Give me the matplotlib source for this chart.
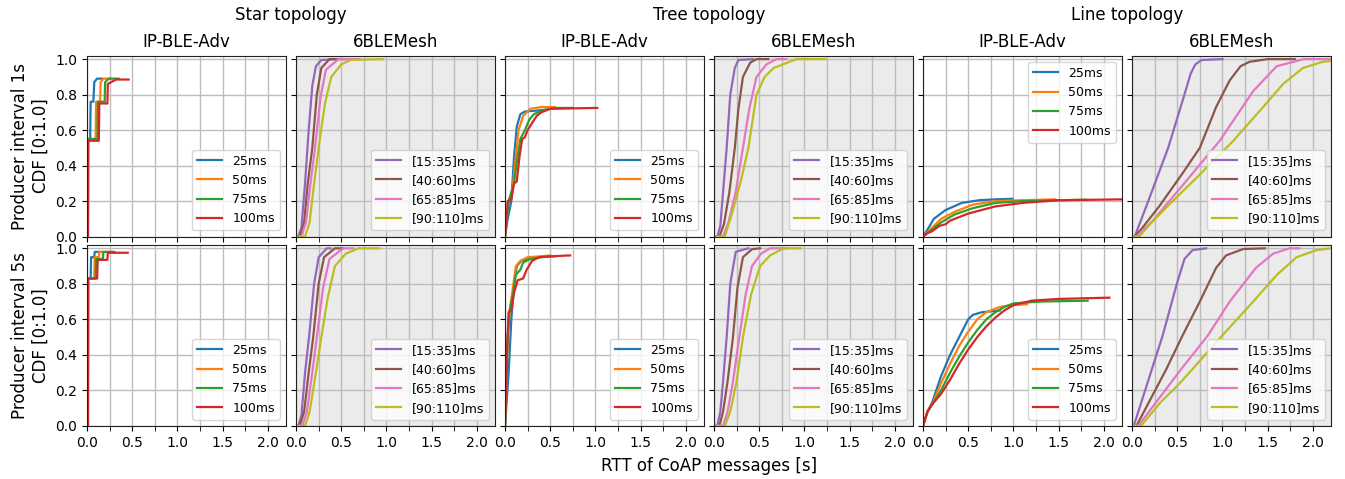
import numpy as np
import matplotlib
matplotlib.use("Agg")
import matplotlib.pyplot as plt
from matplotlib.ticker import MultipleLocator, FuncFormatter

# legend labels and colours
adv_labels = ["25ms", "50ms", "75ms", "100ms"]
mesh_labels = ["[15:35]ms", "[40:60]ms", "[65:85]ms", "[90:110]ms"]
adv_colors = ["C0", "C1", "C2", "C3"]
mesh_colors = ["C4", "C5", "C6", "C8"]

topologies = ["Star topology", "Tree topology", "Line topology"]
col_titles = ["IP-BLE-Adv", "6BLEMesh"]
row_labels = ["Producer interval 1s\nCDF [0:1.0]", "Producer interval 5s\nCDF [0:1.0]"]

# ---- Star, IP-BLE-Adv ----
star_adv_1s_x = [
    [0, 0.01, 0.012, 0.035, 0.04, 0.07, 0.08, 0.11, 0.165],
    [0, 0.01, 0.012, 0.095, 0.1, 0.145, 0.15, 0.18, 0.26],
    [0, 0.01, 0.012, 0.115, 0.12, 0.195, 0.2, 0.24, 0.35],
    [0, 0.01, 0.012, 0.13, 0.136, 0.225, 0.23, 0.32, 0.46],
]
star_adv_1s_y = [
    [0, 0, 0.55, 0.55, 0.76, 0.76, 0.87, 0.89, 0.89],
    [0, 0, 0.55, 0.55, 0.76, 0.76, 0.87, 0.89, 0.89],
    [0, 0, 0.55, 0.55, 0.76, 0.76, 0.87, 0.89, 0.89],
    [0, 0, 0.54, 0.54, 0.75, 0.75, 0.86, 0.885, 0.885],
]
star_adv_5s_x = [
    [0, 0.01, 0.012, 0.04, 0.045, 0.08, 0.085, 0.15],
    [0, 0.01, 0.012, 0.08, 0.085, 0.13, 0.136, 0.26],
    [0, 0.01, 0.012, 0.095, 0.1, 0.175, 0.18, 0.3],
    [0, 0.01, 0.012, 0.112, 0.118, 0.225, 0.23, 0.45],
]
star_adv_5s_y = [
    [0, 0, 0.83, 0.83, 0.95, 0.95, 0.98, 0.98],
    [0, 0, 0.83, 0.83, 0.95, 0.95, 0.98, 0.98],
    [0, 0, 0.83, 0.83, 0.94, 0.94, 0.98, 0.98],
    [0, 0, 0.83, 0.83, 0.935, 0.935, 0.975, 0.975],
]

# ---- Star, 6BLEMesh ----
star_mesh_1s_x = [
    [0.0, 0.025, 0.06, 0.1, 0.14, 0.18, 0.22, 0.28, 0.45],
    [0.0, 0.045, 0.09, 0.13, 0.18, 0.23, 0.28, 0.37, 0.55],
    [0.0, 0.06, 0.11, 0.16, 0.21, 0.27, 0.33, 0.47, 0.7],
    [0.0, 0.1, 0.15, 0.2, 0.25, 0.32, 0.39, 0.5, 0.6, 0.96],
]
star_mesh_1s_y = [
    [0, 0, 0.05, 0.3, 0.6, 0.85, 0.96, 0.995, 1.0],
    [0, 0, 0.08, 0.3, 0.5, 0.8, 0.95, 1.0, 1.0],
    [0, 0, 0.08, 0.3, 0.5, 0.78, 0.94, 1.0, 1.0],
    [0, 0, 0.08, 0.3, 0.5, 0.75, 0.9, 0.97, 0.995, 1.0],
]
star_mesh_5s_x = [
    [0.0, 0.026, 0.06, 0.1, 0.144, 0.2, 0.25, 0.34, 0.38],
    [0.0, 0.04, 0.09, 0.14, 0.19, 0.25, 0.31, 0.43, 0.52],
    [0.0, 0.07, 0.12, 0.18, 0.23, 0.3, 0.37, 0.52, 0.63],
    [0.0, 0.1, 0.15, 0.22, 0.28, 0.35, 0.43, 0.55, 0.69, 0.92],
]
star_mesh_5s_y = [
    [0, 0, 0.06, 0.3, 0.5, 0.8, 0.95, 1.0, 1.0],
    [0, 0, 0.08, 0.3, 0.5, 0.8, 0.95, 1.0, 1.0],
    [0, 0, 0.08, 0.3, 0.5, 0.78, 0.94, 1.0, 1.0],
    [0, 0, 0.08, 0.3, 0.5, 0.72, 0.9, 0.97, 1.0, 1.0],
]

# ---- Tree, IP-BLE-Adv ----
tree_adv_1s_x = [
    [0, 0.03, 0.07, 0.1, 0.13, 0.17, 0.22, 0.35, 0.45],
    [0, 0.04, 0.08, 0.12, 0.15, 0.2, 0.28, 0.4, 0.55],
    [0, 0.04, 0.1, 0.13, 0.17, 0.22, 0.27, 0.32, 0.4, 0.55, 0.75],
    [0, 0.03, 0.07, 0.1, 0.13, 0.16, 0.19, 0.22, 0.25, 0.3, 0.35, 0.4, 0.5, 1.02],
]
tree_adv_1s_y = [
    [0, 0.1, 0.2, 0.45, 0.62, 0.69, 0.705, 0.71, 0.715],
    [0, 0.2, 0.25, 0.45, 0.6, 0.68, 0.72, 0.73, 0.73],
    [0, 0.2, 0.3, 0.42, 0.55, 0.6, 0.66, 0.69, 0.71, 0.725, 0.725],
    [0, 0.2, 0.21, 0.3, 0.31, 0.45, 0.55, 0.56, 0.6, 0.64, 0.68, 0.7, 0.72, 0.725],
]
tree_adv_5s_x = [
    [0, 0.04, 0.07, 0.1, 0.13, 0.18, 0.27, 0.35, 0.45],
    [0, 0.03, 0.05, 0.08, 0.12, 0.17, 0.25, 0.4, 0.5],
    [0, 0.03, 0.05, 0.09, 0.12, 0.17, 0.2, 0.28, 0.4, 0.55],
    [0, 0.02, 0.04, 0.07, 0.1, 0.14, 0.2, 0.24, 0.3, 0.38, 0.5, 0.72],
]
tree_adv_5s_y = [
    [0, 0.3, 0.6, 0.8, 0.9, 0.93, 0.94, 0.95, 0.955],
    [0, 0.5, 0.65, 0.75, 0.9, 0.93, 0.95, 0.955, 0.96],
    [0, 0.5, 0.64, 0.75, 0.85, 0.88, 0.92, 0.94, 0.95, 0.955],
    [0, 0.4, 0.64, 0.65, 0.75, 0.82, 0.83, 0.88, 0.93, 0.95, 0.955, 0.96],
]

# ---- Tree, 6BLEMesh ----
tree_mesh_1s_x = [
    [0.0, 0.037, 0.07, 0.1, 0.14, 0.18, 0.23, 0.27, 0.43],
    [0.0, 0.06, 0.11, 0.17, 0.23, 0.27, 0.32, 0.4, 0.47, 0.6],
    [0.0, 0.1, 0.16, 0.24, 0.32, 0.39, 0.47, 0.58, 0.69, 0.8],
    [0.0, 0.12, 0.21, 0.3, 0.38, 0.47, 0.56, 0.66, 0.91, 1.23],
]
tree_mesh_1s_y = [
    [0, 0, 0.06, 0.25, 0.5, 0.8, 0.95, 0.995, 1.0],
    [0, 0, 0.07, 0.25, 0.5, 0.72, 0.9, 0.98, 1.0, 1.0],
    [0, 0, 0.08, 0.25, 0.5, 0.72, 0.9, 0.97, 1.0, 1.0],
    [0, 0, 0.15, 0.32, 0.5, 0.8, 0.9, 0.95, 1.0, 1.0],
]
tree_mesh_5s_x = [
    [0.0, 0.037, 0.07, 0.1, 0.14, 0.18, 0.24, 0.38],
    [0.0, 0.06, 0.1, 0.15, 0.21, 0.26, 0.32, 0.42, 0.51],
    [0.0, 0.1, 0.15, 0.21, 0.28, 0.35, 0.42, 0.52, 0.62, 0.8],
    [0.0, 0.12, 0.18, 0.25, 0.32, 0.41, 0.51, 0.62, 0.77, 0.96],
]
tree_mesh_5s_y = [
    [0, 0, 0.08, 0.25, 0.5, 0.8, 0.98, 1.0],
    [0, 0, 0.08, 0.25, 0.5, 0.78, 0.95, 0.995, 1.0],
    [0, 0, 0.08, 0.25, 0.5, 0.74, 0.9, 0.97, 1.0, 1.0],
    [0, 0, 0.08, 0.25, 0.5, 0.74, 0.9, 0.96, 1.0, 1.0],
]

# ---- Line, IP-BLE-Adv ----
line_adv_1s_x = [
    [0, 0.05, 0.12, 0.25, 0.43, 0.62, 0.8, 0.99],
    [0, 0.1, 0.2, 0.35, 0.55, 0.8, 1.1, 1.46],
    [0, 0.05, 0.1, 0.2, 0.35, 0.55, 0.8, 1.1, 1.5, 1.8],
    [0, 0.05, 0.1, 0.18, 0.25, 0.3, 0.5, 0.8, 1.1, 1.5, 2.2],
]
line_adv_1s_y = [
    [0, 0.04, 0.1, 0.15, 0.19, 0.205, 0.21, 0.213],
    [0, 0.05, 0.1, 0.14, 0.18, 0.2, 0.205, 0.21],
    [0, 0.02, 0.04, 0.08, 0.125, 0.16, 0.19, 0.2, 0.205, 0.208],
    [0, 0.02, 0.03, 0.06, 0.07, 0.09, 0.13, 0.17, 0.19, 0.205, 0.21],
]
line_adv_5s_x = [
    [0, 0.05, 0.1, 0.2, 0.3, 0.4, 0.5, 0.55, 0.65, 0.85],
    [0, 0.05, 0.1, 0.2, 0.3, 0.4, 0.5, 0.6, 0.7, 0.85, 1.0, 1.15],
    [0, 0.05, 0.1, 0.2, 0.3, 0.4, 0.5, 0.6, 0.7, 0.8, 0.9, 1.0, 1.3, 1.82],
    [0, 0.05, 0.1, 0.2, 0.3, 0.4, 0.5, 0.6, 0.7, 0.8, 0.9, 1.0, 1.2, 1.5, 2.06],
]
line_adv_5s_y = [
    [0, 0.08, 0.13, 0.28, 0.4, 0.5, 0.6, 0.625, 0.64, 0.65],
    [0, 0.08, 0.12, 0.24, 0.35, 0.45, 0.53, 0.6, 0.64, 0.67, 0.68, 0.685],
    [0, 0.08, 0.12, 0.2, 0.3, 0.39, 0.47, 0.54, 0.6, 0.64, 0.67, 0.69, 0.70, 0.705],
    [0, 0.08, 0.12, 0.18, 0.26, 0.35, 0.43, 0.5, 0.56, 0.61, 0.65, 0.68, 0.705, 0.715, 0.722],
]

# ---- Line, 6BLEMesh ----
line_mesh_1s_x = [
    [0.0, 0.03, 0.18, 0.4, 0.55, 0.65, 0.7, 0.77, 1.0],
    [0.0, 0.03, 0.1, 0.3, 0.55, 0.75, 0.93, 1.08, 1.2, 1.3, 1.5, 1.8],
    [0.0, 0.05, 0.23, 0.545, 0.97, 1.34, 1.6, 1.9, 2.2],
    [0.0, 0.08, 0.2, 0.38, 0.75, 1.12, 1.45, 1.67, 1.89, 2.11, 2.2],
]
line_mesh_1s_y = [
    [0, 0, 0.2, 0.5, 0.75, 0.92, 0.97, 0.995, 1.0],
    [0, 0, 0.04, 0.17, 0.35, 0.5, 0.73, 0.88, 0.96, 0.985, 1.0, 1.0],
    [0, 0, 0.09, 0.28, 0.54, 0.82, 0.96, 1.0, 1.0],
    [0, 0, 0.07, 0.165, 0.35, 0.54, 0.73, 0.86, 0.95, 0.985, 0.99],
]
line_mesh_5s_x = [
    [0.0, 0.02, 0.34, 0.49, 0.58, 0.67, 0.82],
    [0.0, 0.05, 0.38, 0.56, 0.75, 0.93, 1.04, 1.23, 1.47],
    [0.0, 0.07, 0.27, 0.545, 0.84, 1.08, 1.37, 1.56, 1.74, 1.85],
    [0.0, 0.1, 0.32, 0.51, 0.67, 1.0, 1.34, 1.6, 1.82, 2.04, 2.2],
]
line_mesh_5s_y = [
    [0, 0, 0.51, 0.79, 0.94, 0.99, 1.0],
    [0, 0, 0.32, 0.51, 0.7, 0.89, 0.96, 0.996, 1.0],
    [0, 0, 0.135, 0.32, 0.51, 0.7, 0.89, 0.97, 1.0, 1.0],
    [0, 0, 0.135, 0.23, 0.32, 0.51, 0.7, 0.85, 0.95, 0.99, 1.0],
]

panels = [
    [(star_adv_1s_x, star_adv_1s_y), (star_mesh_1s_x, star_mesh_1s_y),
     (tree_adv_1s_x, tree_adv_1s_y), (tree_mesh_1s_x, tree_mesh_1s_y),
     (line_adv_1s_x, line_adv_1s_y), (line_mesh_1s_x, line_mesh_1s_y)],
    [(star_adv_5s_x, star_adv_5s_y), (star_mesh_5s_x, star_mesh_5s_y),
     (tree_adv_5s_x, tree_adv_5s_y), (tree_mesh_5s_x, tree_mesh_5s_y),
     (line_adv_5s_x, line_adv_5s_y), (line_mesh_5s_x, line_mesh_5s_y)],
]

fig, axes = plt.subplots(2, 6, figsize=(13.45, 4.79), dpi=100, sharex=True, sharey=True)
fig.subplots_adjust(left=0.0647, right=0.9896, top=0.884, bottom=0.111, wspace=0.05, hspace=0.045)

for r in range(2):
    for c in range(6):
        ax = axes[r, c]
        mesh = (c % 2 == 1)
        xs, ys = panels[r][c]
        labels = mesh_labels if mesh else adv_labels
        colors = mesh_colors if mesh else adv_colors
        for x, y, lab, col in zip(xs, ys, labels, colors):
            ax.plot(x, y, color=col, lw=1.6, label=lab)
        if mesh:
            ax.set_facecolor("#ebebeb")
        ax.set_xlim(0, 2.2)
        ax.set_ylim(0, 1.02)
        ax.xaxis.set_major_locator(MultipleLocator(0.5))
        ax.xaxis.set_minor_locator(MultipleLocator(0.25))
        ax.yaxis.set_major_locator(MultipleLocator(0.2))
        ax.xaxis.set_major_formatter(FuncFormatter(lambda v, p: "%.1f" % v))
        ax.yaxis.set_major_formatter(FuncFormatter(lambda v, p: "%.1f" % v))
        ax.tick_params(which="both", length=3.5, labelsize=10)
        ax.grid(True, which="both", color="#bdbdbd", lw=1.0)
        ax.set_axisbelow(True)
        for s in ax.spines.values():
            s.set_color("#222222")
        loc = "upper right" if (r == 0 and c == 4) else "lower right"
        ax.legend(loc=loc, fontsize=9)
        if r == 0:
            ax.set_title(col_titles[c % 2], fontsize=12)
        if c == 0:
            ax.set_ylabel(row_labels[r], fontsize=12)

for i, t in enumerate(topologies):
    left = axes[0, 2 * i].get_position()
    right = axes[0, 2 * i + 1].get_position()
    fig.text((left.x0 + right.x1) / 2, 0.968, t, ha="center", va="center", fontsize=12)

fig.text(0.527, 0.027, "RTT of CoAP messages [s]", ha="center", va="center", fontsize=12)

fig.savefig("out.png", dpi=100)
